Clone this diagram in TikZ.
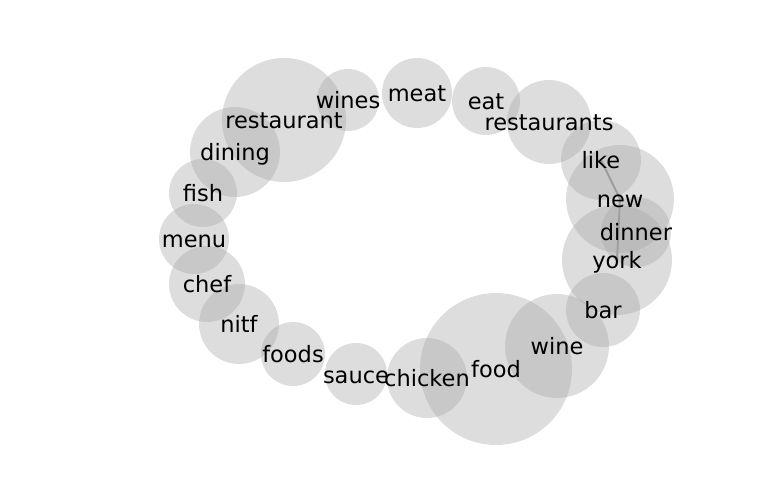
\documentclass[tikz,border=0pt]{standalone}
\usepackage{fontspec}
\setmainfont{DejaVu Sans}
\usetikzlibrary{backgrounds}

\begin{document}
\begin{tikzpicture}[
  x=0.02cm, y=-0.02cm,
  bubble/.style={circle, inner sep=0pt, fill=black!35, fill opacity=0.38},
  word/.style={font=\fontsize{12.8}{15}\selectfont, inner sep=0pt, anchor=base, yshift=-0.18cm},
  link/.style={draw=black!45, line width=1.1pt}
]
\useasboundingbox (0,0) rectangle (768,500);

% bubbles: name/x/y/radius
\foreach \n/\x/\y/\r in {
  restaurant/284/120/62, wines/348/100/31, meat/417/93/35, eat/486/101/34,
  restaurants/549/122/42, like/601/160/40, new/620/199/54, dinner/636/232/35,
  york/617/260/55, bar/603/310/37, wine/557/346/52, food/496/369/76,
  chicken/427/378/40, sauce/356/374/31, foods/293/354/32, nitf/239/324/40,
  chef/207/284/38, menu/194/239/35, fish/203/193/34, dining/235/152/45}
  \node[bubble, minimum size={0.04cm*\r}] (\n) at (\x,\y) {};

% links under the bubbles
\begin{scope}[on background layer]
  \draw[link] (like.center) -- (new.center);
  \draw[link] (new.center) -- (york.center);
\end{scope}

% labels
\foreach \n in {restaurant, wines, meat, eat, restaurants, like, new, dinner,
  york, bar, wine, food, chicken, sauce, foods, nitf, chef, menu, fish, dining}
  \node[word] at (\n) {\n};
\end{tikzpicture}
\end{document}
